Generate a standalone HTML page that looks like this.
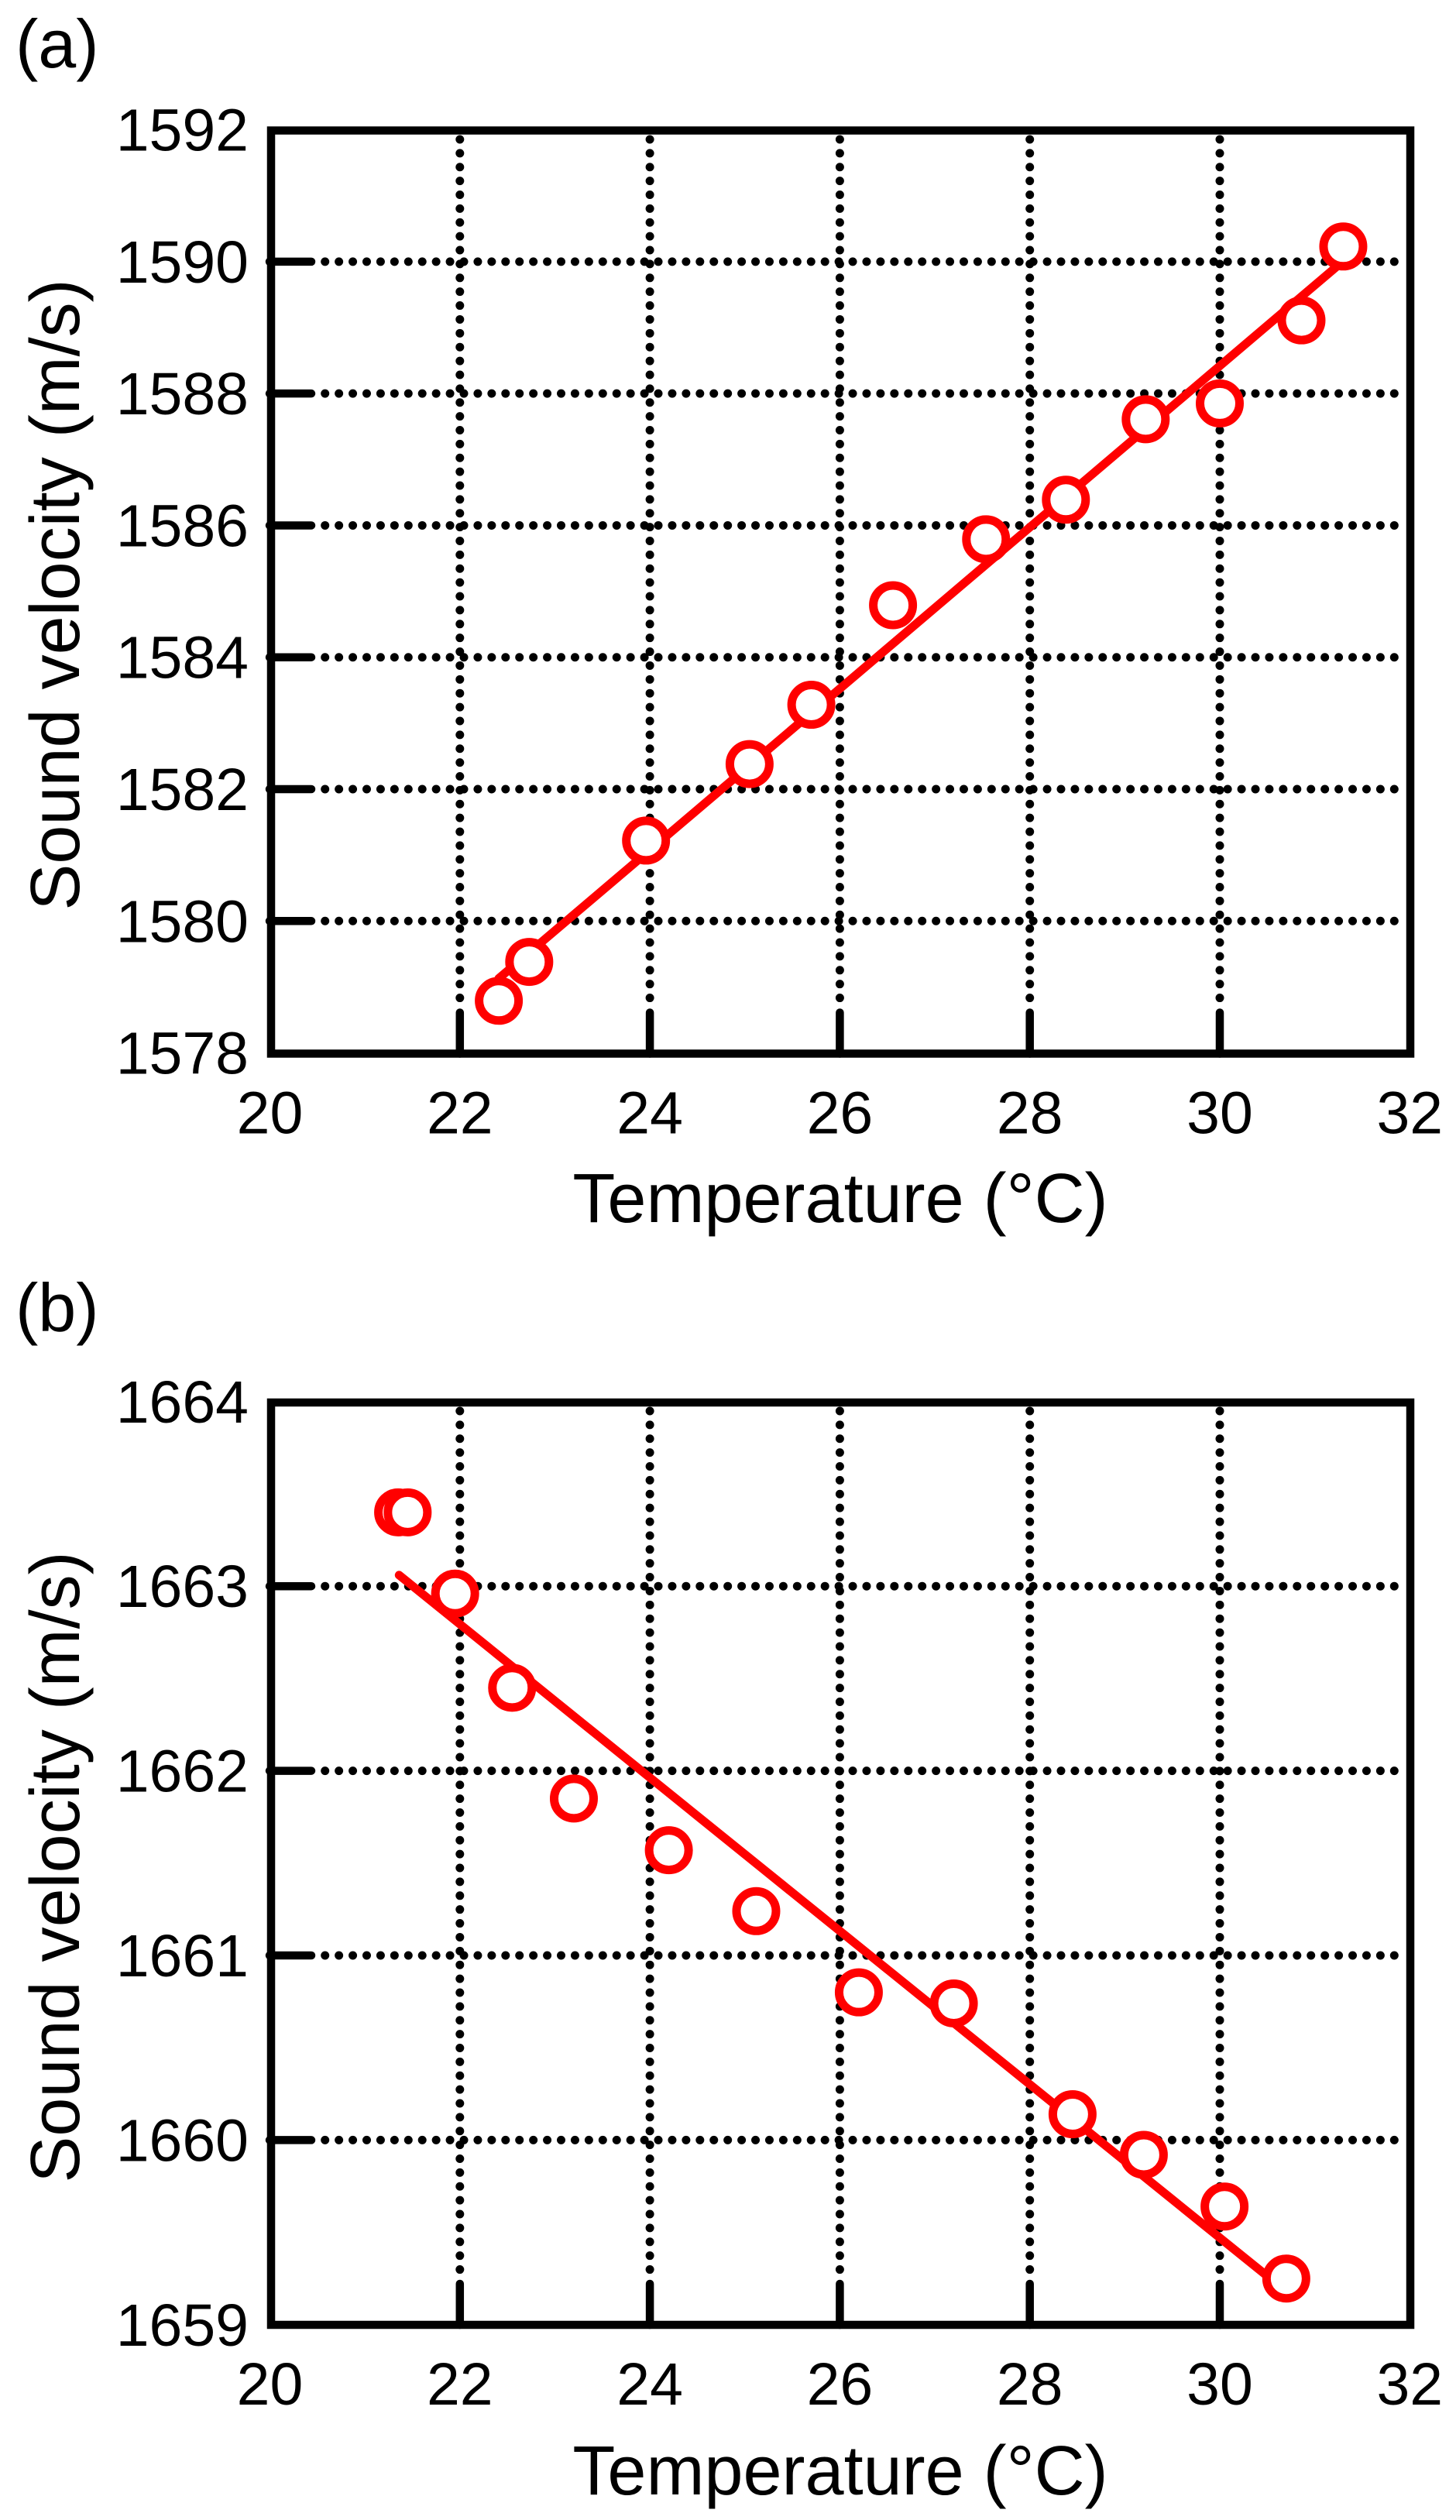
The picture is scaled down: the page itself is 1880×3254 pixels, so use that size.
<!DOCTYPE html>
<html>
<head>
<meta charset="utf-8">
<title>Sound velocity vs temperature</title>
<style>
html,body{margin:0;padding:0;background:#fff;}
svg{display:block;}
text{font-family:"Liberation Sans",Arial,sans-serif;fill:#000;}
.tick{font-size:77px;}
.title{font-size:90px;}
.panel{font-size:88px;}
</style>
</head>
<body>
<svg id="chart" xmlns="http://www.w3.org/2000/svg" width="1880" height="3254" viewBox="0 0 1880 3254">
  <rect x="0" y="0" width="1880" height="3254" fill="#fff"/>
  <text class="panel" x="20" y="87">(a)</text>
  <text class="panel" x="20" y="1719">(b)</text>
  <text class="title" x="1085" y="1578" text-anchor="middle">Temperature (°C)</text>
  <text class="title" x="1085" y="3221" text-anchor="middle">Temperature (°C)</text>
  <text class="title" x="102" y="768" text-anchor="middle" transform="rotate(-90 102 768)">Sound velocity (m/s)</text>
  <text class="title" x="102" y="2411" text-anchor="middle" transform="rotate(-90 102 2411)">Sound velocity (m/s)</text>
  <g id="panel-a"></g>
  <g id="panel-b"></g>
</svg>
<script>
// Shared x axis
const xTicks = [20, 22, 24, 26, 28, 30, 32];

// Panel (a) data
const yTicksA = [1578, 1580, 1582, 1584, 1586, 1588, 1590, 1592];
const tempA = [22.41, 22.73, 23.96, 25.05, 25.70, 26.56, 27.54, 28.38, 29.22, 30.00, 30.86, 31.30];
const velocityA = [1578.79, 1579.38, 1581.22, 1582.38, 1583.28, 1584.79, 1585.79, 1586.39, 1587.61, 1587.85, 1589.11, 1590.23];
const fitTempA = [22.41, 31.30];
const fitVelocityA = [1579.13, 1590.01];

// Panel (b) data
const yTicksB = [1659, 1660, 1661, 1662, 1663, 1664];
const tempB = [21.35, 21.45, 21.95, 22.55, 23.20, 24.20, 25.12, 26.20, 27.20, 28.45, 29.20, 30.05, 30.70];
const velocityB = [1663.40, 1663.40, 1662.96, 1662.45, 1661.85, 1661.57, 1661.24, 1660.80, 1660.74, 1660.14, 1659.92, 1659.64, 1659.25];
const fitTempB = [21.36, 30.70];
const fitVelocityB = [1663.06, 1659.18];

const NS = 'http://www.w3.org/2000/svg';

function xScale(v) {
  return 348.5 + 122.65 * (v - 20);
}
function yScaleA(v) {
  return 167.6 + 85.14 * (1592 - v);
}
function yScaleB(v) {
  return 1809.8 + 238.4 * (1664 - v);
}

function add(parent, tag) {
  const el = document.createElementNS(NS, tag);
  parent.appendChild(el);
  return el;
}

function segment(el, x1, y1, x2, y2, width, color, cap) {
  el.setAttribute('x1', x1);
  el.setAttribute('y1', y1);
  el.setAttribute('x2', x2);
  el.setAttribute('y2', y2);
  el.setAttribute('stroke', color);
  el.setAttribute('stroke-width', width);
  el.setAttribute('stroke-linecap', cap);
}

function drawPanel(root, yScale, yTicks, temps, velocities, fitTemps, fitVelocities, frame) {
  // dotted grid
  xTicks.slice(1, -1).forEach(function (t) {
    const g = add(root, 'line');
    
    
    segment(g, xScale(t), frame.gridTop, xScale(t), frame.gridBottom, 11, '#000', 'round');
    g.setAttribute('stroke-dasharray', '0 17.88');
  });
  yTicks.slice(1, -1).forEach(function (v) {
    const g = add(root, 'line');
    
    
    segment(g, 419.7, yScale(v), 1816, yScale(v), 11, '#000', 'round');
    g.setAttribute('stroke-dasharray', '0 17.93');
  });

  // tick marks
  xTicks.slice(1, -1).forEach(function (t) {
    const m = add(root, 'line');
    
    
    segment(m, xScale(t), frame.bottom, xScale(t), frame.bottom - 53, 10.5, '#000', 'round');
  });
  yTicks.slice(1, -1).forEach(function (v) {
    const m = add(root, 'line');
    
    
    segment(m, 348, yScale(v), 402, yScale(v), 10.5, '#000', 'round');
  });

  // frame
  const box = add(root, 'rect');
  
  
  box.setAttribute('x', 350);
  box.setAttribute('y', frame.top);
  box.setAttribute('width', 1471);
  box.setAttribute('height', frame.bottom - frame.top);
  box.setAttribute('fill', 'none');
  box.setAttribute('stroke', '#000');
  box.setAttribute('stroke-width', 10.5);
  box.setAttribute('stroke-linejoin', 'miter');

  // tick labels
  xTicks.forEach(function (t) {
    const label = add(root, 'text');
    
    
    label.setAttribute('class', 'tick');
    label.setAttribute('x', xScale(t));
    label.setAttribute('y', frame.bottom + 103);
    label.setAttribute('text-anchor', 'middle');
    label.textContent = t;
  });
  yTicks.forEach(function (v) {
    const label = add(root, 'text');
    
    
    label.setAttribute('class', 'tick');
    label.setAttribute('x', 321);
    label.setAttribute('y', yScale(v) + 27);
    label.setAttribute('text-anchor', 'end');
    label.textContent = v;
  });

  // linear fit
  const fit = add(root, 'line');
  
  
  segment(fit, xScale(fitTemps[0]), yScale(fitVelocities[0]), xScale(fitTemps[1]), yScale(fitVelocities[1]), 11, '#ff0000', 'round');

  // measured points
  temps.forEach(function (t, i) {
    const c = add(root, 'circle');
    
    
    c.setAttribute('cx', xScale(t));
    c.setAttribute('cy', yScale(velocities[i]));
    c.setAttribute('r', 25.5);
    c.setAttribute('fill', '#fff');
    c.setAttribute('stroke', '#ff0000');
    c.setAttribute('stroke-width', 11);
  });
}

drawPanel(document.getElementById('panel-a'), yScaleA, yTicksA, tempA, velocityA, fitTempA, fitVelocityA,
  { top: 168.5, bottom: 1360.5, gridTop: 180, gridBottom: 1290 });
drawPanel(document.getElementById('panel-b'), yScaleB, yTicksB, tempB, velocityB, fitTempB, fitVelocityB,
  { top: 1811, bottom: 3002, gridTop: 1822, gridBottom: 2932 });
</script>
</body>
</html>
